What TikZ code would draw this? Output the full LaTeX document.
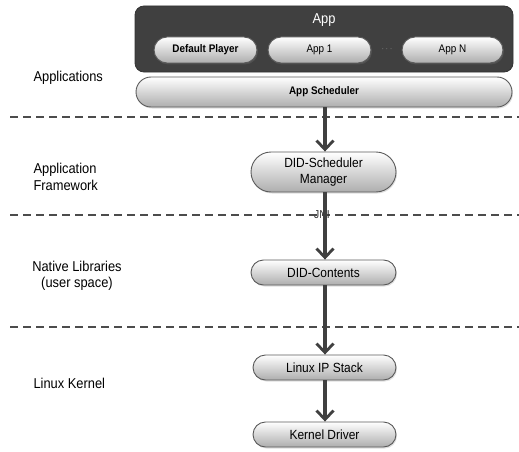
\documentclass[tikz,border=0pt]{standalone}
\usepackage{fontspec}
\setmainfont{Liberation Sans}[FakeStretch=0.9]
\usetikzlibrary{arrows.meta,shapes.misc,shadows}
\definecolor{darkbox}{HTML}{404040}
\definecolor{pillline}{HTML}{5A5A5A}
\tikzset{
  pill/.style={rounded rectangle, draw=pillline, line width=0.9pt,
    top color=white, bottom color=black!32, inner sep=1pt,
    drop shadow={opacity=0.25, shadow xshift=1pt, shadow yshift=-1.5pt}},
  layerlabel/.style={font=\fontsize{14.3}{16.5}\selectfont, align=left},
  flow/.style={draw=darkbox, line width=3.2pt,
    -{Straight Barb[length=9pt, width=17pt, line width=2.8pt]}},
  sep/.style={draw=black!70, line width=1.4pt, dash pattern=on 8pt off 5pt}
}
\begin{document}
\begin{tikzpicture}[x=1pt, y=-1pt]
\useasboundingbox (0,0) rectangle (519,452);
% layer separators
\draw[sep] (10,117) -- (519,117);
\draw[sep] (10,215) -- (519,215);
\draw[sep] (10,327) -- (519,327);
% layer names
\node[layerlabel, anchor=west] (lapps) at (30,78) {Applications};
\node[layerlabel, anchor=west] (lfw) at (30,177) {Application\\Framework};
\node[layerlabel, align=center] (lnative) at (77,276) {Native Libraries\\(user space)};
\node[layerlabel, anchor=west] (lkernel) at (30,383) {Linux Kernel};
% application block
\node[draw=black!80, fill=darkbox, rounded corners=9pt, line width=0.8pt,
  minimum width=378pt, minimum height=66pt] (appbox) at (324,39) {};
\node[text=white, font=\fontsize{14.3}{16}\selectfont] (apptitle) at (324,20) {App};
\node[pill, minimum width=105pt, minimum height=26pt, font=\fontsize{11}{13}\selectfont\bfseries] (defplayer) at (205.5,50) {Default Player};
\node[pill, minimum width=105pt, minimum height=26pt, font=\fontsize{11}{13}\selectfont] (app1) at (319.5,50) {App 1};
\node[text=black!40, font=\fontsize{9}{10}\selectfont] (dots) at (387,49) {$\cdots$};
\node[pill, minimum width=103pt, minimum height=26pt, font=\fontsize{11}{13}\selectfont] (appn) at (452.5,50) {App N};
\node[pill, minimum width=378pt, minimum height=30pt, font=\fontsize{11}{13}\selectfont\bfseries] (sched) at (324,92) {App Scheduler};
% stack
\node[pill, minimum width=147pt, minimum height=40pt, align=center, font=\fontsize{13.3}{16}\selectfont] (dsm) at (323.5,172) {DID-Scheduler\\Manager};
\node[pill, minimum width=147pt, minimum height=25pt, font=\fontsize{13.3}{15}\selectfont] (didc) at (323.5,272.5) {DID-Contents};
\node[pill, minimum width=145pt, minimum height=25pt, font=\fontsize{13.3}{15}\selectfont] (ipstack) at (324.5,367.5) {Linux IP Stack};
\node[pill, minimum width=145pt, minimum height=25pt, font=\fontsize{13.3}{15}\selectfont] (kdriver) at (324.5,434.5) {Kernel Driver};
\node[font=\fontsize{11.5}{13}\selectfont, text=black!80] (jni) at (322,215) {JNI};
% calls
\draw[flow] (sched.south -| 325,0) -- (dsm.north -| 325,0);
\draw[flow] (dsm.south -| 325,0) -- (didc.north -| 325,0);
\draw[flow] (didc.south -| 325,0) -- (ipstack.north -| 325,0);
\draw[flow] (ipstack.south -| 325,0) -- (kdriver.north -| 325,0);
\end{tikzpicture}
\end{document}
